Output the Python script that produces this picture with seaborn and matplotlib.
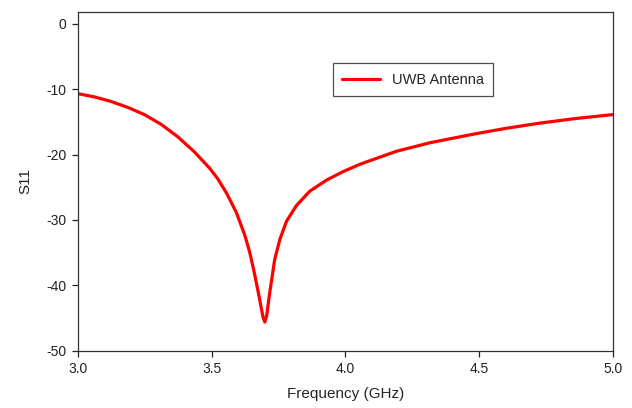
import numpy as np
import pandas as pd
import matplotlib
matplotlib.use("Agg")
import matplotlib.pyplot as plt
import seaborn as sns

# values
freq_ghz = [3.000, 3.063, 3.125, 3.187, 3.249, 3.312, 3.374, 3.436, 3.493, 3.523,
            3.556, 3.593, 3.624, 3.643, 3.662, 3.680, 3.692, 3.699, 3.706, 3.718,
            3.736, 3.755, 3.780, 3.817, 3.867, 3.930, 3.992, 4.048, 4.067, 4.191,
            4.316, 4.490, 4.600, 4.727, 4.860, 5.000]
s11_db = [-10.7, -11.2, -11.9, -12.8, -13.9, -15.4, -17.3, -19.6, -22.1, -23.7,
          -25.9, -28.9, -32.3, -35.0, -38.5, -42.2, -44.8, -45.6, -44.6, -40.9,
          -36.0, -33.0, -30.2, -27.8, -25.6, -23.9, -22.6, -21.6, -21.3, -19.5,
          -18.2, -16.8, -16.0, -15.2, -14.5, -13.9]
series_name = "UWB Antenna"

x_ticks = [3.0, 3.5, 4.0, 4.5, 5.0]
y_ticks = [0, -10, -20, -30, -40, -50]

df = pd.DataFrame({"Frequency (GHz)": freq_ghz, "S11": s11_db, "series": series_name})

sns.set_style("ticks")
plt.rcParams["font.family"] = ["Liberation Sans", "DejaVu Sans"]
plt.rcParams["axes.unicode_minus"] = False

fig, ax = plt.subplots(figsize=(6.32, 4.08), dpi=100)
fig.subplots_adjust(left=0.123, right=0.970, top=0.971, bottom=0.140)

sns.lineplot(data=df, x="Frequency (GHz)", y="S11", hue="series",
             palette=["#ff0000"], linewidth=2.3, ax=ax)
for ln in ax.get_lines():
    ln.set_solid_joinstyle("round")
    ln.set_solid_capstyle("round")

ax.set_xlim(3.0, 5.0)
ax.set_ylim(-50, 1.8)
ax.set_xticks(x_ticks)
ax.set_xticklabels([f"{v:.1f}" for v in x_ticks])
ax.set_yticks(y_ticks)
ax.tick_params(axis="both", direction="out", length=4, width=0.9,
               labelsize=10, colors="#222222", pad=4)
ax.tick_params(top=False, right=False)
for sp in ax.spines.values():
    sp.set_visible(True)
    sp.set_color("#333333")
    sp.set_linewidth(0.9)

ax.set_xlabel("Frequency (GHz)", fontsize=11, labelpad=8)
ax.set_ylabel("S11", fontsize=11, labelpad=10)

leg = ax.legend(loc="center", bbox_to_anchor=(0.626, 0.80), fontsize=10.5,
                frameon=True, fancybox=False, handlelength=2.6,
                borderpad=0.65, handletextpad=0.8)
leg.get_frame().set_edgecolor("#222222")
leg.get_frame().set_linewidth(0.9)
leg.set_title(None)

fig.savefig("out.png", dpi=100)
